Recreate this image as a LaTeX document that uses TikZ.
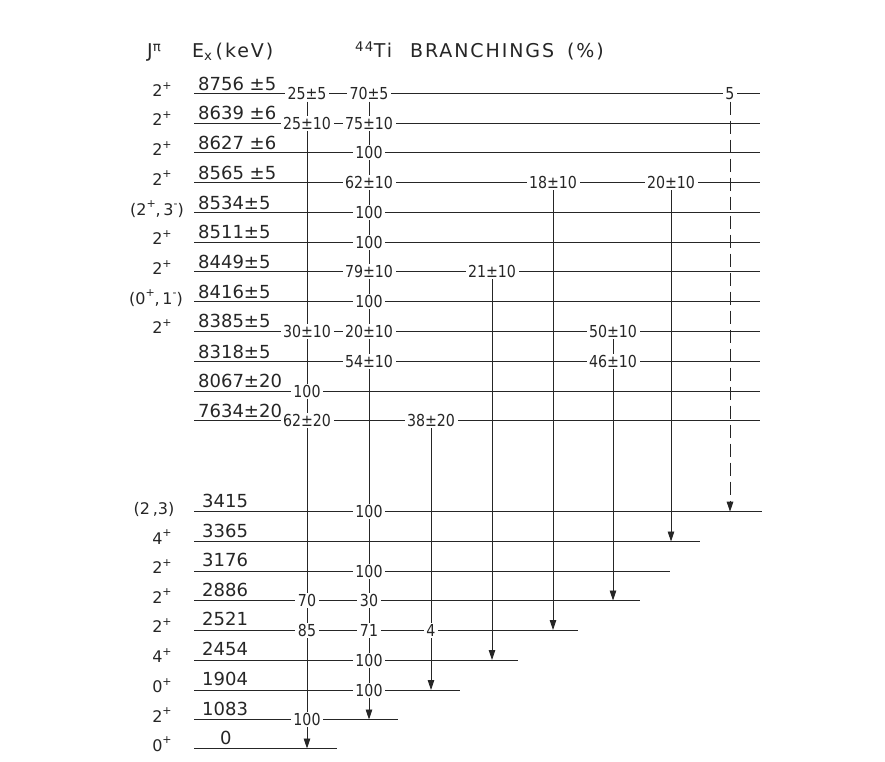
\documentclass[tikz,border=0pt]{standalone}
\usepackage{fontspec}
\setmainfont{DejaVu Sans}
\usetikzlibrary{arrows.meta}
\pgfdeclarelayer{bg}
\pgfsetlayers{bg,main}
\newcommand\jsup[1]{\raisebox{0.45em}{\fontsize{11}{12}\selectfont #1}}
\begin{document}
\begin{tikzpicture}[x=1pt,y=-1pt,
  lvl/.style={line width=1pt, black!85},
  elab/.style={anchor=base west, inner sep=0pt, text=black!85, font=\fontsize{18}{21}\selectfont},
  jlab/.style={anchor=base, inner sep=0pt, text=black!85, font=\fontsize{16}{19}\selectfont},
  br/.style={fill=white, inner xsep=2.5pt, inner ysep=1.5pt, text height=12pt, text depth=0pt, text=black!85, font=\fontsize{16.5}{19}\selectfont\addfontfeature{FakeStretch=0.86}},
  tr/.style={line width=0.9pt, black!85, -{Triangle[length=10pt,width=6.5pt]}},
  trd/.style={tr, dash pattern=on 13pt off 6pt},
  hdr/.style={anchor=base west, inner sep=0pt, text=black!85, font=\fontsize{19}{22}\selectfont\addfontfeature{LetterSpace=10}}
]
\useasboundingbox (0,0) rectangle (885,762);

% header
\node[hdr] (hJ) at (147,58) {J\textsuperscript{π}};
\node[hdr] (hE) at (192,58) {E\textsubscript{x}\,(keV)};
\node[hdr] (hT) at (355,58) {\textsuperscript{44}Ti\hspace{18pt}BRANCHINGS\hspace{13pt}(\%)};

% level end points
\foreach \n/\y/\xe in {8756/94/760, 8639/123.5/760, 8627/153/760, 8565/182.7/760,
  8534/212.5/760, 8511/242/760, 8449/271.7/760, 8416/301.5/760, 8385/331.3/760,
  8318/361.5/760, 8067/391.3/760, 7634/420.5/760,
  3415/511.7/762, 3365/541.5/700, 3176/571/670, 2886/600.5/640, 2521/630/578,
  2454/660/518, 1904/690/460, 1083/719.5/398, 0/748.5/337}{
  \coordinate (w\n) at (194,\y);
  \coordinate (e\n) at (\xe,\y);
}

% energy labels
\foreach \n/\t in {8756/8756 ±5, 8639/8639 ±6, 8627/8627 ±6, 8565/8565 ±5,
  8534/8534±5, 8511/8511±5, 8449/8449±5, 8416/8416±5, 8385/8385±5, 8318/8318±5,
  8067/8067±20, 7634/7634±20}{
  \node[elab] (E\n) at ([shift={(4,-3.5)}]w\n) {\t};
}
\foreach \n in {3415,3365,3176,2886,2521,2454,1904,1083}{
  \node[elab] (E\n) at ([shift={(8,-4.5)}]w\n) {\n};
}
\node[elab] (E0) at ([shift={(26,-4.5)}]w0) {0};

% J^pi labels
\foreach \n in {8756,8639,8627,8565,8511,8449,8385,3176,2886,2521,1083}{
  \node[jlab] (J\n) at ([shift={(-32,2.5)}]w\n) {2\jsup{+}};
}
\foreach \n in {3365,2454}{
  \node[jlab] (J\n) at ([shift={(-32,2.5)}]w\n) {4\jsup{+}};
}
\foreach \n in {1904,0}{
  \node[jlab] (J\n) at ([shift={(-32,2.5)}]w\n) {0\jsup{+}};
}
\node[jlab] (J8534) at ([shift={(-37,2.5)}]w8534) {(2\jsup{+},\,3\jsup{-})};
\node[jlab] (J8416) at ([shift={(-38,2.5)}]w8416) {(0\jsup{+},\,1\jsup{-})};
\node[jlab] (J3415) at ([shift={(-40,2.5)}]w3415) {(2\,,3)};

% branching labels: column 1 (x=307)
\foreach \n/\nm/\t in {8756/a/25±5, 8639/b/25±10, 8385/c/30±10, 8067/d/100,
  7634/e/62±20, 2886/f/70, 2521/g/85, 1083/h/100}{
  \node[br] (c1\nm) at (w\n -| 307,0) {\t};
}
% column 2 (x=369)
\foreach \n/\nm/\t in {8756/a/70±5, 8639/b/75±10, 8627/c/100, 8565/d/62±10,
  8534/e/100, 8511/f/100, 8449/g/79±10, 8416/h/100, 8385/i/20±10, 8318/j/54±10,
  3415/k/100, 3176/l/100, 2886/m/30, 2521/n/71, 2454/o/100, 1904/p/100}{
  \node[br] (c2\nm) at (w\n -| 369,0) {\t};
}
\node[br] (c3a) at (w7634 -| 431,0) {38±20};
\node[br] (c3b) at (w2521 -| 431,0) {4};
\node[br] (c4a) at (w8449 -| 492,0) {21±10};
\node[br] (c5a) at (w8565 -| 553,0) {18±10};
\node[br] (c6a) at (w8385 -| 613,0) {50±10};
\node[br] (c6b) at (w8318 -| 613,0) {46±10};
\node[br] (c7a) at (w8565 -| 671,0) {20±10};
\node[br] (c8a) at (w8756 -| 730,0) {5};

% arrow end points
\coordinate (a1) at (w0 -| 307,0);
\coordinate (a2) at (w1083 -| 369,0);
\coordinate (a3) at (w1904 -| 431,0);
\coordinate (a4) at (w2454 -| 492,0);
\coordinate (a5) at (w2521 -| 553,0);
\coordinate (a6) at (w2886 -| 613,0);
\coordinate (a7) at (w3365 -| 671,0);
\coordinate (a8) at (w3415 -| 730,0);

\begin{pgfonlayer}{bg}
  \fill[white] (0,0) rectangle (885,762);
  \foreach \n in {8756,8639,8627,8565,8534,8511,8449,8416,8385,8318,8067,7634,
    3415,3365,3176,2886,2521,2454,1904,1083,0}{
    \draw[lvl] (w\n) -- (e\n);
  }
  \draw[tr] (c1a) -- (a1);
  \draw[tr] (c2a) -- (a2);
  \draw[tr] (c3a) -- (a3);
  \draw[tr] (c4a) -- (a4);
  \draw[tr] (c5a) -- (a5);
  \draw[tr] (c6a) -- (a6);
  \draw[tr] (c7a) -- (a7);
  \draw[trd] (c8a) -- (a8);
\end{pgfonlayer}
\end{tikzpicture}
\end{document}
